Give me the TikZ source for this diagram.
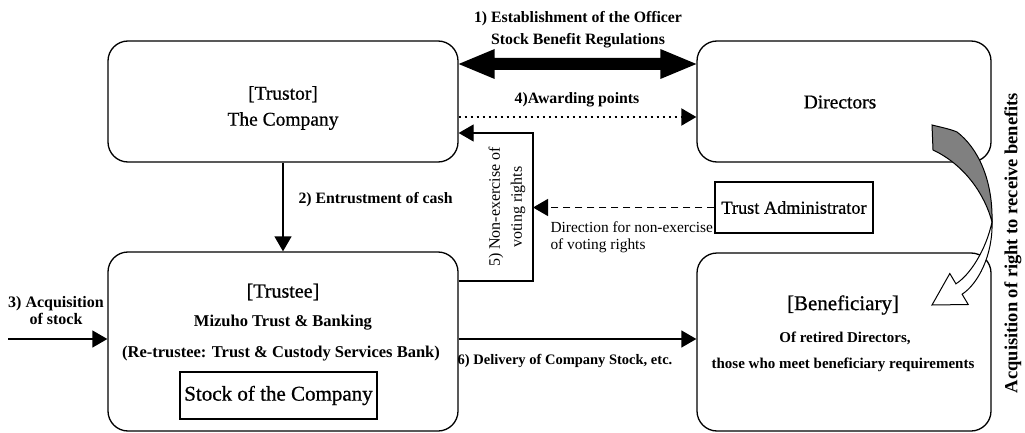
\documentclass[tikz,border=0pt]{standalone}
\usepackage{fontspec}
\setmainfont{Liberation Serif}
\newfontfamily\medser[FakeBold=0.7]{Liberation Serif}
\usetikzlibrary{arrows.meta,calc}
\begin{document}
\begin{tikzpicture}[x=1pt,y=-1pt,
  rbox/.style={draw, line width=1.3pt, rounded corners=20pt, inner sep=0pt},
  sbox/.style={draw, line width=1.3pt, inner sep=0pt},
  arr/.style={line width=1.3pt, -{Triangle[length=15pt,width=17pt]}},
  bigtxt/.style={font=\medser\fontsize{19.5}{26}\selectfont},
  lab/.style={font=\bfseries\fontsize{15.8}{22}\selectfont},
  smalllab/.style={font=\fontsize{15.4}{17}\selectfont},
  benefln/.style={font=\bfseries\fontsize{15}{18}\selectfont},
  trln/.style={font=\bfseries\fontsize{16.5}{20}\selectfont},
]
\useasboundingbox (0,0) rectangle (1025,433);

% helper rows
\coordinate (r64) at (0,64);
\coordinate (r117) at (0,117);
\coordinate (r281) at (0,281);
\coordinate (c533) at (533,133);
\coordinate (in3) at (8,339);

% boxes
\node[rbox, minimum width=350pt, minimum height=121pt] (company) at (283,101.5) {};
\node[rbox, minimum width=294pt, minimum height=121pt] (directors) at (844,101.5) {};
\node[rbox, minimum width=350pt, minimum height=179pt] (trustee) at (283,341.5) {};
\node[rbox, minimum width=294pt, minimum height=178pt] (benef) at (844,342) {};
\node[sbox, minimum width=158pt, minimum height=51pt, font=\medser\fontsize{18.3}{20}\selectfont] (admin) at (794,207.5) {Trust Administrator};
\node[sbox, minimum width=197pt, minimum height=47pt, font=\medser\fontsize{21}{24}\selectfont] (stock) at (278.5,395.5) {Stock of the Company};

% box texts
\node[bigtxt, align=center] (companyt) at (283,108) {[Trustor]\\The Company};
\node[bigtxt] (directorst) at (840,102) {Directors};
\node[font=\medser\fontsize{20}{24}\selectfont] (trusteet) at (283,292) {[Trustee]};
\node[trln] (mizuho) at (283,323) {Mizuho Trust \& Banking};
\node[trln] (retrustee) at (281,354) {(Re-trustee: Trust \& Custody Services Bank)};
\node[font=\medser\fontsize{21}{24}\selectfont] (benefhead) at (843,305) {[Beneficiary]};
\node[benefln] (benefl1) at (845,338) {Of retired Directors,};
\node[benefln] (benefl2) at (843,365) {those who meet beneficiary requirements};

% thick double arrow 1)
\coordinate (da) at (company.east |- r64);
\coordinate (db) at (directors.west |- r64);
\fill (da) -- ++(36,-15) -- ++(0,9) -- ($(db)+(-36,-6)$) -- ++(0,-9) -- (db)
  -- ++(-36,15) -- ++(0,-9) -- ($(da)+(36,6)$) -- ++(0,9) -- cycle;
\node[lab, align=center] (l1) at (578,30) {1) Establishment of the Officer\\Stock Benefit Regulations};

% 4) dotted
\draw[line width=2pt, dash pattern=on 2pt off 4pt, -{Triangle[length=15pt,width=17pt]}] (company.east |- r117) -- (directors.west |- r117);
\node[lab] (l4) at (577,100) {4)Awarding points};

% 2)
\draw[arr] (company.south) -- (trustee.north);
\node[lab, anchor=west] (l2) at (295,200) {2) Entrustment of cash};

% 5)
\draw[arr] (trustee.east |- r281) -| (c533) -- (company.east |- c533);
\node[font=\fontsize{16}{22}\selectfont, rotate=90, align=center] (l5) at (507,207) {5) Non-exercise of\\voting rights};

% dashed direction
\draw[arr, dash pattern=on 7pt off 5pt] (admin.west) -- (c533 |- admin.west);
\node[smalllab, align=left, anchor=west] (ldir) at (547,237) {Direction for non-exercise\\of voting rights};

% 3)
\draw[arr] (in3) -- (trustee.west |- in3);
\node[font=\bfseries\fontsize{16}{17}\selectfont, align=center] (l3) at (56,311) {3) Acquisition\\of stock};

% 6)
\draw[arr] (trustee.east |- in3) -- (benef.west |- in3);
\node[font=\bfseries\fontsize{14.5}{17}\selectfont] (l6) at (565,361) {6) Delivery of Company Stock, etc.};

% curved arrow
\filldraw[fill=gray, line width=1pt] (932,125) .. controls (940,127) and (950,129) .. (957,132)
  .. controls (978,148) and (993,180) .. (992,222)
  .. controls (985,195) and (965,165) .. (933,150) -- cycle;
\filldraw[fill=white, line width=1pt] (992,222) .. controls (993,255) and (978,284) .. (962.1,294.2)
  -- (968.2,304.5) -- (932,305) -- (949.8,273.5) -- (955.9,283.8)
  .. controls (970,275) and (986,250) .. (992,222) -- cycle;
\node[font=\bfseries\fontsize{18.5}{20}\selectfont, rotate=90] (lacq) at (1013,243) {Acquisition of right to receive benefits};
\end{tikzpicture}
\end{document}
